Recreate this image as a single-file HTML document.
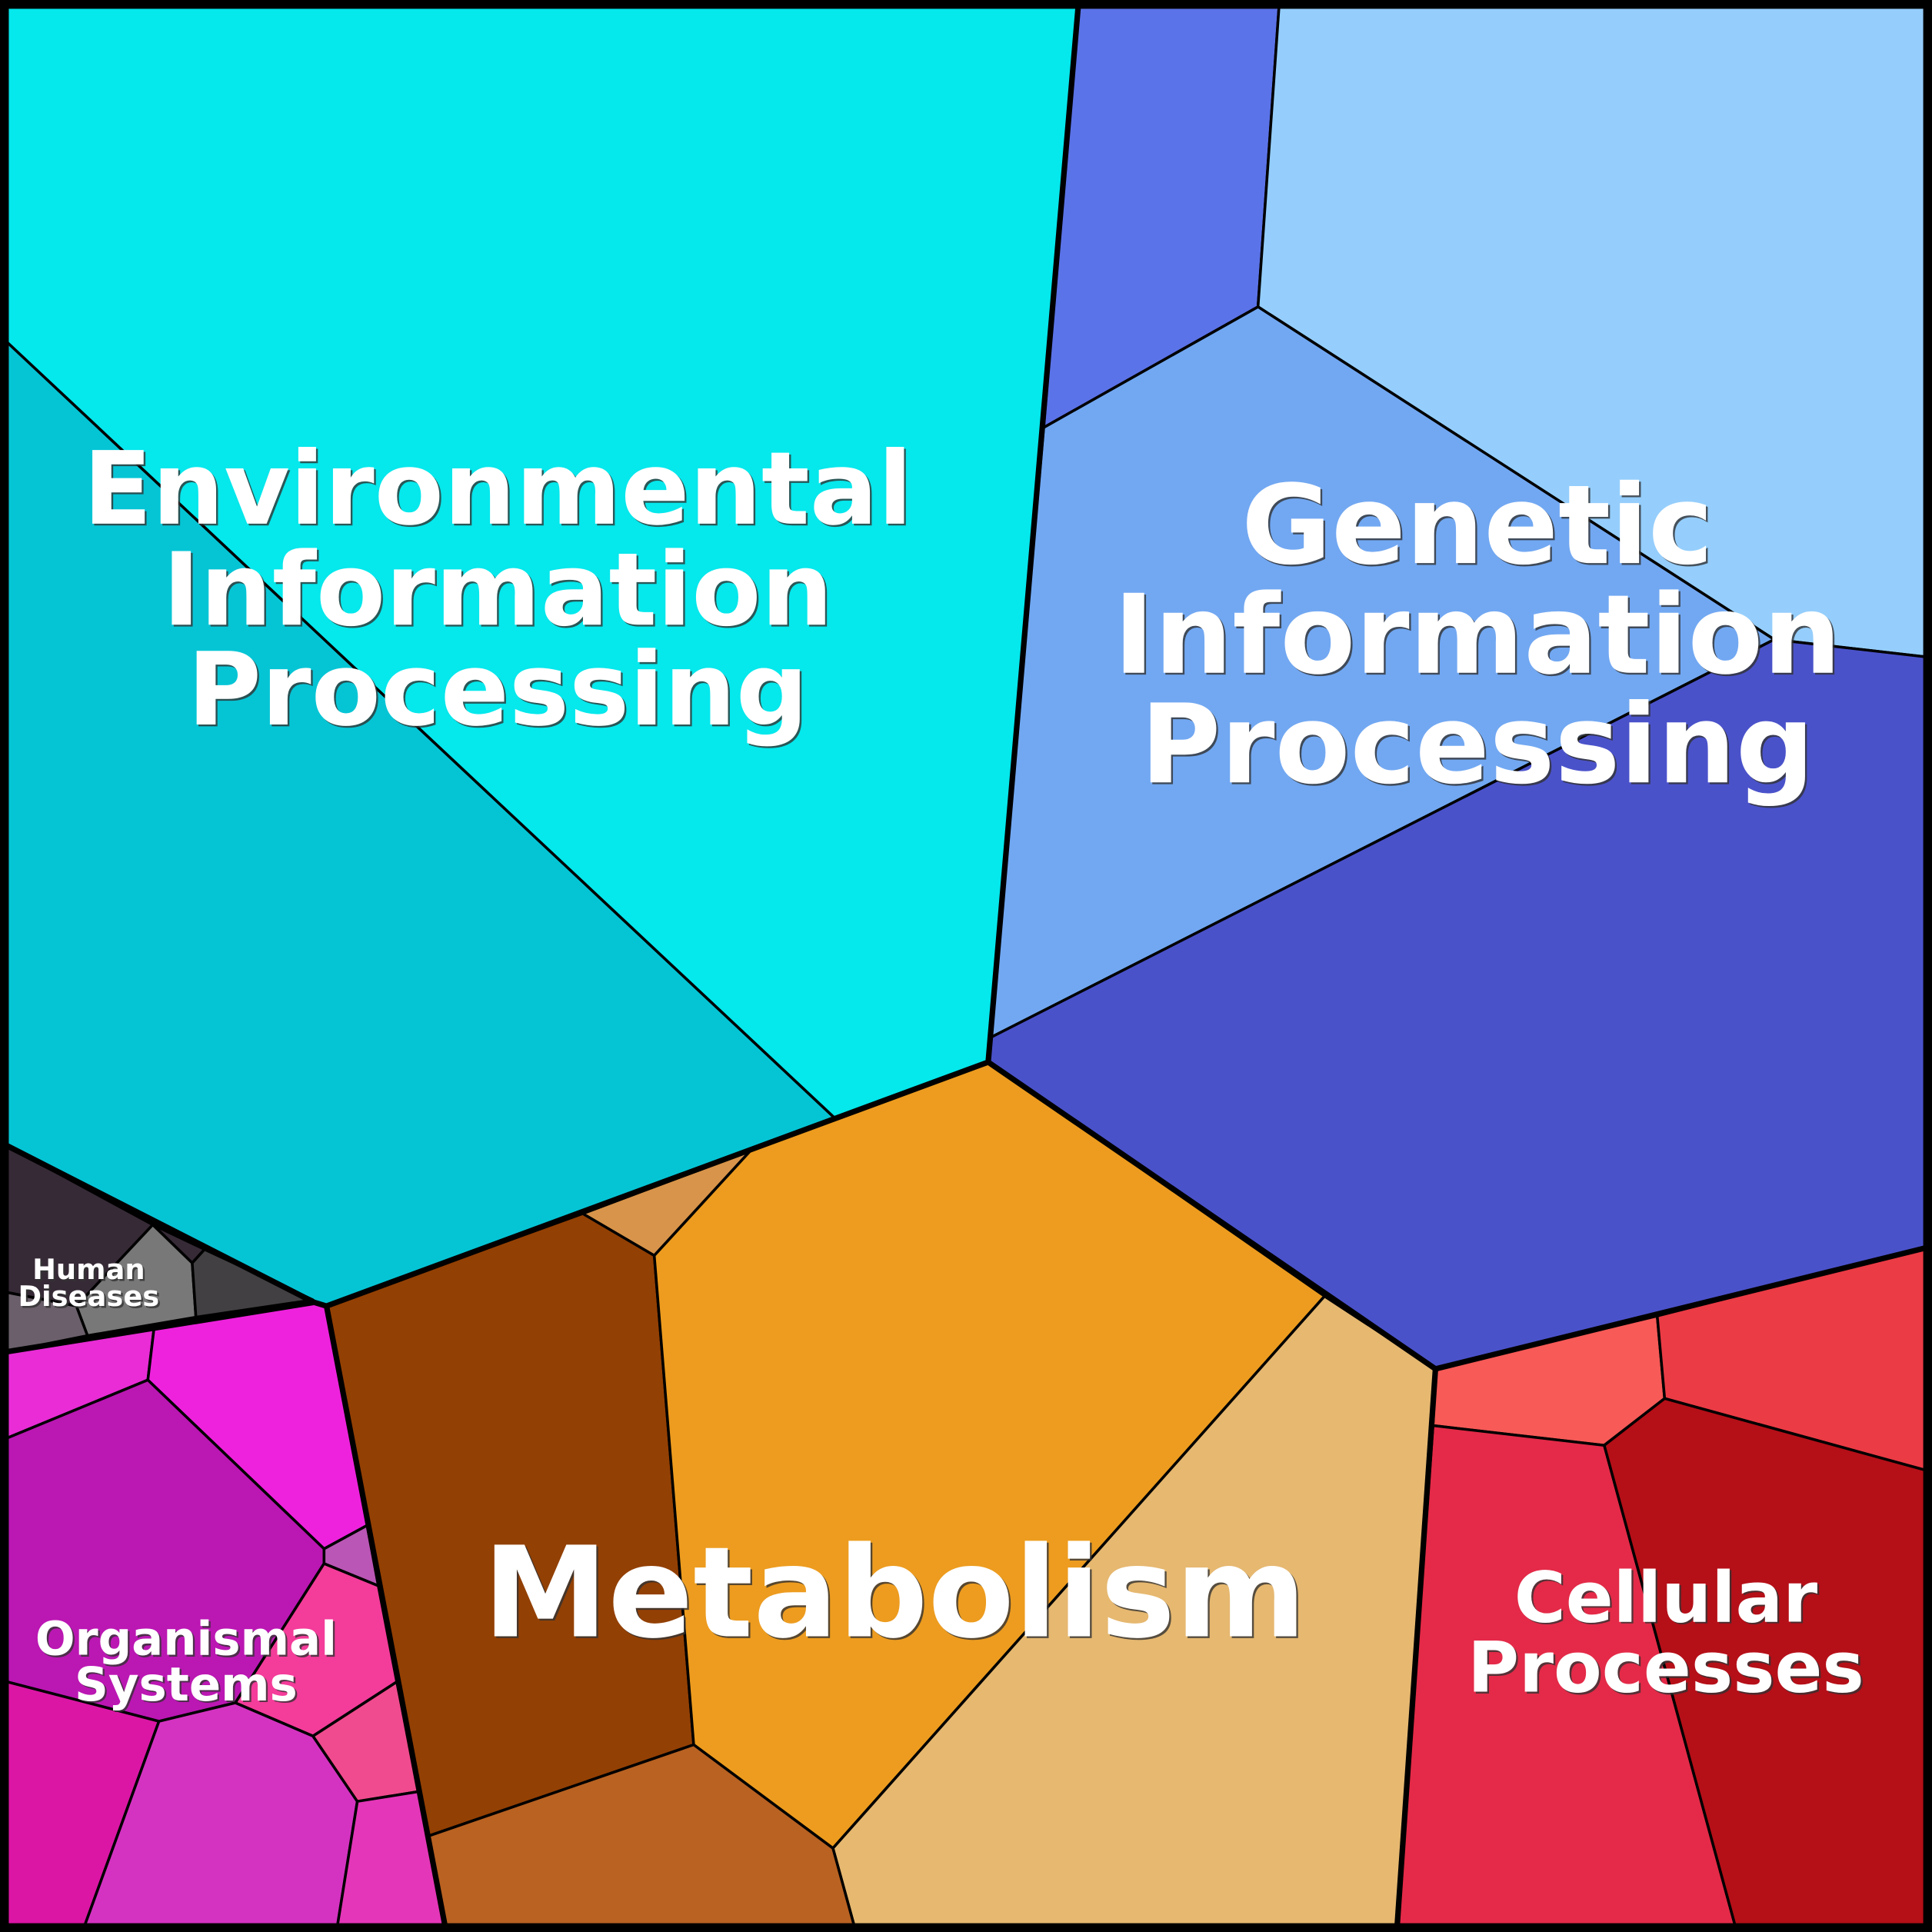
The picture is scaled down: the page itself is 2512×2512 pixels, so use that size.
<!DOCTYPE html>
<html><head><meta charset="utf-8"><style>
html,body{margin:0;padding:0;background:#000;}
svg{display:block}
text{font-family:"DejaVu Sans","Liberation Sans",sans-serif;font-weight:bold;text-anchor:middle}
</style></head><body>
<svg width="2512" height="2512" viewBox="0 0 1568 1568" xmlns="http://www.w3.org/2000/svg">
<rect x="0" y="0" width="1568" height="1568" fill="#000"/>
<g stroke="#000" stroke-width="2.2" stroke-linejoin="round">
<polygon fill="#05E8EC" points="6,6 875,6 802,862 677,907 6,278"/>
<polygon fill="#05C5D5" points="6,278 677,907 265,1060 255,1057 6,930"/>
<polygon fill="#5B73E8" points="875,6 1038,6 1021,249 847,347"/>
<polygon fill="#95CEFC" points="1038,6 1562,6 1562,533 1440,519 1021,249"/>
<polygon fill="#72A8F2" points="847,347 1021,249 1440,519 804,842"/>
<polygon fill="#4A52CA" points="804,842 1440,519 1562,533 1562,1013 1165,1111 802,862"/>
<polygon fill="#D8944A" points="473,985 609,934 531,1019"/>
<polygon fill="#934004" points="265,1060 473,985 531,1019 563,1416 348,1490"/>
<polygon fill="#ED9C1F" points="609,934 677,907 802,862 1075,1052 676,1500 563,1416 531,1019"/>
<polygon fill="#E6B870" points="1075,1052 1165,1111 1134,1562 693,1562 676,1500"/>
<polygon fill="#B96222" points="348,1490 563,1416 676,1500 693,1562 361,1562"/>
<polygon fill="#F75A57" points="1165,1111 1345,1068 1351,1135 1302,1173 1163,1157"/>
<polygon fill="#EB3B45" points="1345,1068 1562,1013 1562,1193 1351,1135"/>
<polygon fill="#E42A48" points="1163,1157 1302,1173 1408,1562 1134,1562"/>
<polygon fill="#B50F18" points="1302,1173 1351,1135 1562,1193 1562,1562 1408,1562"/>
<polygon fill="#372A37" points="6,930 124,994 62,1060 6,1049"/>
<polygon fill="#372A37" points="124,994 166,1014 156,1025"/>
<polygon fill="#787878" points="124,994 156,1025 159,1069 71,1084 62,1060"/>
<polygon fill="#424042" points="156,1025 166,1014 254,1055 159,1069"/>
<polygon fill="#6A5F6A" points="6,1049 62,1060 71,1084 6,1097"/>
<polygon fill="#E92CD6" points="6,1097 125,1078 120,1120 6,1167"/>
<polygon fill="#EE22DD" points="125,1078 255,1057 265,1060 298,1238 263,1257 120,1120"/>
<polygon fill="#BB17B3" points="6,1167 120,1120 263,1257 263,1269 191,1382 129,1397 6,1365"/>
<polygon fill="#BA56B5" points="263,1257 298,1238 307,1287 263,1269"/>
<polygon fill="#F43C9A" points="263,1269 307,1287 322,1365 254,1409 191,1382"/>
<polygon fill="#DB16A5" points="6,1365 129,1397 69,1562 6,1562"/>
<polygon fill="#D433C1" points="129,1397 191,1382 254,1409 290,1462 274,1562 69,1562"/>
<polygon fill="#F04B8E" points="254,1409 322,1365 340,1454 290,1462"/>
<polygon fill="#E436B8" points="290,1462 340,1454 361,1562 274,1562"/>
</g>
<g stroke="#000" stroke-width="4.5" fill="none" stroke-linejoin="round">
<polyline points="875,6 802,862 1165,1111 1562,1013"/>
<polyline points="1165,1111 1134,1562"/>
<polyline points="6,930 255,1057 265,1060 802,862"/>
<polyline points="265,1060 361,1562"/>
<polyline points="6,1097 255,1057"/>
</g>
<rect x="3.5" y="3.5" width="1561" height="1561" fill="none" stroke="#000" stroke-width="7"/>
<g fill="#333" opacity="0.8" transform="translate(1.5,1.5)">
<text x="404" y="425" font-size="82">Environmental</text>
<text x="404" y="507" font-size="82">Information</text>
<text x="404" y="588" font-size="82">Processing</text>
<text x="1199" y="457" font-size="89">Genetic</text>
<text x="1199" y="546" font-size="89">Information</text>
<text x="1199" y="635" font-size="89">Processing</text>
<text x="726" y="1328" font-size="102">Metabolism</text>
<text x="1352" y="1316" font-size="57">Cellular</text>
<text x="1352" y="1373" font-size="57">Processes</text>
<text x="151" y="1343" font-size="38">Organismal</text>
<text x="151" y="1380" font-size="38">Systems</text>
<text x="72" y="1038" font-size="23">Human</text>
<text x="72" y="1060" font-size="23">Diseases</text>
</g>
<g fill="#fff">
<text x="404" y="425" font-size="82">Environmental</text>
<text x="404" y="507" font-size="82">Information</text>
<text x="404" y="588" font-size="82">Processing</text>
<text x="1199" y="457" font-size="89">Genetic</text>
<text x="1199" y="546" font-size="89">Information</text>
<text x="1199" y="635" font-size="89">Processing</text>
<text x="726" y="1328" font-size="102">Metabolism</text>
<text x="1352" y="1316" font-size="57">Cellular</text>
<text x="1352" y="1373" font-size="57">Processes</text>
<text x="151" y="1343" font-size="38">Organismal</text>
<text x="151" y="1380" font-size="38">Systems</text>
<text x="72" y="1038" font-size="23">Human</text>
<text x="72" y="1060" font-size="23">Diseases</text>
</g>
</svg>
</body></html>
